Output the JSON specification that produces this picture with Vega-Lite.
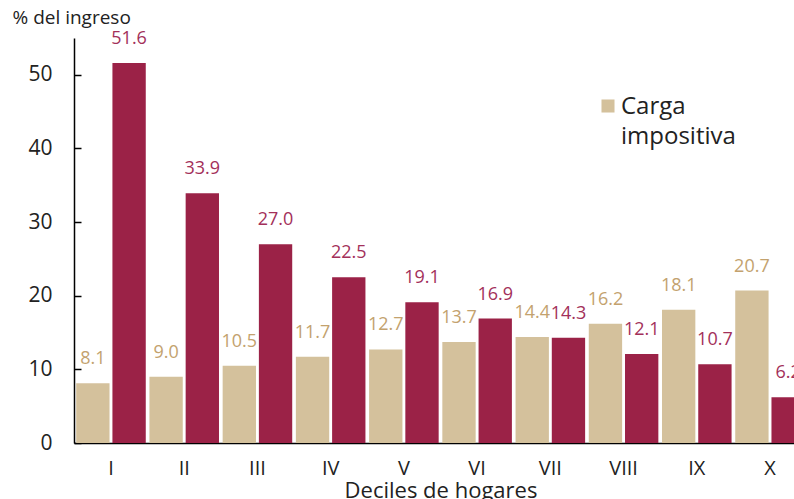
{
  "$schema": "https://vega.github.io/schema/vega-lite/v6.json",
  "autosize": "none",
  "padding": {"left": 74, "top": 38, "right": 0, "bottom": 56},
  "width": 733,
  "height": 405,
  "config": {"view": {"stroke": null}, "font": "Open Sans"},
  "data": {"values": [
    {"decil": "I", "serie": "Carga impositiva", "valor": 8.1},
    {"decil": "I", "serie": "Transferencias", "valor": 51.6},
    {"decil": "II", "serie": "Carga impositiva", "valor": 9.0},
    {"decil": "II", "serie": "Transferencias", "valor": 33.9},
    {"decil": "III", "serie": "Carga impositiva", "valor": 10.5},
    {"decil": "III", "serie": "Transferencias", "valor": 27.0},
    {"decil": "IV", "serie": "Carga impositiva", "valor": 11.7},
    {"decil": "IV", "serie": "Transferencias", "valor": 22.5},
    {"decil": "V", "serie": "Carga impositiva", "valor": 12.7},
    {"decil": "V", "serie": "Transferencias", "valor": 19.1},
    {"decil": "VI", "serie": "Carga impositiva", "valor": 13.7},
    {"decil": "VI", "serie": "Transferencias", "valor": 16.9},
    {"decil": "VII", "serie": "Carga impositiva", "valor": 14.4},
    {"decil": "VII", "serie": "Transferencias", "valor": 14.3},
    {"decil": "VIII", "serie": "Carga impositiva", "valor": 16.2},
    {"decil": "VIII", "serie": "Transferencias", "valor": 12.1},
    {"decil": "IX", "serie": "Carga impositiva", "valor": 18.1},
    {"decil": "IX", "serie": "Transferencias", "valor": 10.7},
    {"decil": "X", "serie": "Carga impositiva", "valor": 20.7},
    {"decil": "X", "serie": "Transferencias", "valor": 6.2}
  ]},
  "encoding": {
    "x": {
      "field": "decil", "type": "nominal", "sort": null,
      "scale": {"paddingInner": 0.05, "paddingOuter": 0.03},
      "axis": {
        "title": "Deciles de hogares", "titleFontSize": 22, "titleFontWeight": "normal", "titleColor": "#222",
        "titlePadding": 2, "labelAngle": 0, "labelFontSize": 20, "labelColor": "#222", "labelPadding": 15,
        "ticks": false, "domainColor": "#000", "domainWidth": 1.5
      }
    },
    "xOffset": {"field": "serie", "type": "nominal", "scale": {"paddingInner": 0.08, "paddingOuter": 0}},
    "y": {
      "field": "valor", "type": "quantitative",
      "scale": {"domain": [0, 55], "nice": false},
      "axis": {
        "values": [0, 10, 20, 30, 40, 50], "grid": false,
        "title": "% del ingreso", "titleAngle": 0, "titleAlign": "left", "titleBaseline": "bottom",
        "titleX": -62, "titleY": -11, "titleFontSize": 19, "titleFontWeight": "normal", "titleColor": "#222",
        "labelFontSize": 21, "labelColor": "#222", "labelPadding": 29,
        "tickSize": -7, "tickColor": "#000", "tickWidth": 1.5, "domainColor": "#000", "domainWidth": 1.5
      }
    }
  },
  "layer": [
    {
      "mark": {"type": "bar"},
      "encoding": {
        "color": {
          "field": "serie", "type": "nominal",
          "scale": {"domain": ["Carga impositiva", "Transferencias"], "range": ["#D4C19C", "#9B2247"]},
          "legend": {
            "values": ["Carga impositiva"], "title": null, "orient": "none",
            "legendX": 522, "legendY": 56, "symbolType": "square", "symbolSize": 170,
            "labelFontSize": 24, "labelColor": "#222", "labelExpr": "split(datum.label, ' ')",
            "labelBaseline": "top", "labelOffset": 1,
            "encode": {"labels": {"update": {"lineHeight": {"value": 30}, "dy": {"value": -11}}}}
          }
        }
      }
    },
    {
      "mark": {"type": "text", "dy": -15, "fontSize": 18, "baseline": "bottom"},
      "encoding": {
        "text": {"field": "valor", "type": "quantitative", "format": ".1f"},
        "color": {
          "field": "serie", "type": "nominal",
          "scale": {"domain": ["Carga impositiva", "Transferencias"], "range": ["#C3A26E", "#A3305A"]},
          "legend": null
        }
      }
    }
  ],
  "resolve": {"scale": {"color": "independent"}}
}
